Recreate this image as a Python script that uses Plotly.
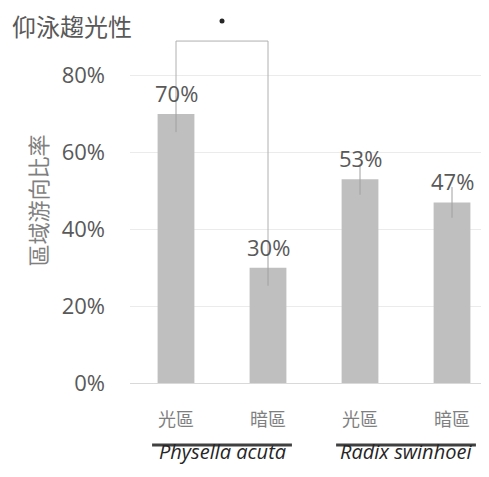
import plotly.graph_objects as go

# data
zones = ['光區', '暗區', '光區', '暗區']
ratios = [0.70, 0.30, 0.53, 0.47]
errors = [0.047, 0.047, 0.04, 0.04]
labels = ['70%', '30%', '53%', '47%']
species = ['Physella acuta', 'Radix swinhoei']
bracket_level = 0.89
sig_level = 0.942  # the significance dot above the bracket

xpos = list(range(len(zones)))
font_family = 'Open Sans, Noto Sans CJK TC, sans-serif'
cjk_family = 'Noto Sans CJK TC, sans-serif'

fig = go.Figure()
fig.add_trace(go.Bar(
    x=xpos, y=ratios, width=0.4,
    marker=dict(color='#bfbfbf', line=dict(width=0)),
    error_y=dict(type='data', array=errors, color='#a0a0a0', thickness=1, width=0),
    hoverinfo='skip', showlegend=False,
))

# value labels above bars
for x, y, t in zip(xpos, ratios, labels):
    fig.add_annotation(x=x, y=y, text=t, showarrow=False, yshift=21,
                       font=dict(family=font_family, size=22, color='#595959'))

# significance bracket between the two Physella bars
fig.add_trace(go.Scatter(
    x=[xpos[0], xpos[0], xpos[1], xpos[1]],
    y=[ratios[0] + errors[0], bracket_level, bracket_level, ratios[1] + errors[1]],
    mode='lines', line=dict(color='#b0b0b0', width=1),
    hoverinfo='skip', showlegend=False,
))
fig.add_trace(go.Scatter(
    x=[(xpos[0] + xpos[1]) / 2], y=[sig_level], mode='markers',
    marker=dict(size=5, color='#262626'),
    hoverinfo='skip', showlegend=False, cliponaxis=False,
))

# group underline + species names
for i, name in enumerate(species):
    cx = (xpos[2 * i] + xpos[2 * i + 1]) / 2
    fig.add_shape(type='line', xref='x', yref='paper', x0=cx - 0.76, x1=cx + 0.76,
                  y0=-0.170, y1=-0.170, line=dict(color='#404040', width=3))
    fig.add_annotation(x=cx, xref='x', y=-0.230, yref='paper', text='<i>' + name + '</i>',
                       showarrow=False, font=dict(family=font_family, size=20, color='#262626'))

# page body has an 8px margin, so the layout is shifted up-left by 8px
fig.update_layout(
    width=489, height=477,
    margin=dict(l=122, r=0, t=10, b=102),
    paper_bgcolor='white', plot_bgcolor='white',
    title=dict(text='仰泳趨光性', x=4 / 489, xanchor='left', y=1 - 20 / 477, yanchor='middle',
               font=dict(family=cjk_family, size=24, color='#595959')),
    xaxis=dict(range=[-0.5, 3.489], tickvals=xpos, ticktext=zones, showgrid=False,
               showline=False, zeroline=False, ticks='', ticklabelstandoff=24,
               tickfont=dict(family=cjk_family, size=18, color='#7f7f7f')),
    yaxis=dict(range=[0, 0.95], tickvals=[0, 0.2, 0.4, 0.6, 0.8], tickformat='.0%', showgrid=True,
               gridcolor='#ebebeb', gridwidth=1, zeroline=True, zerolinecolor='#d9d9d9',
               zerolinewidth=1, showline=False, ticks='', ticklabelstandoff=24,
               tickfont=dict(family=font_family, size=22, color='#595959'),
               title=dict(text='區域游向比率', standoff=7,
                          font=dict(family=cjk_family, size=22, color='#7f7f7f'))),
)

fig.write_html('out.html')
